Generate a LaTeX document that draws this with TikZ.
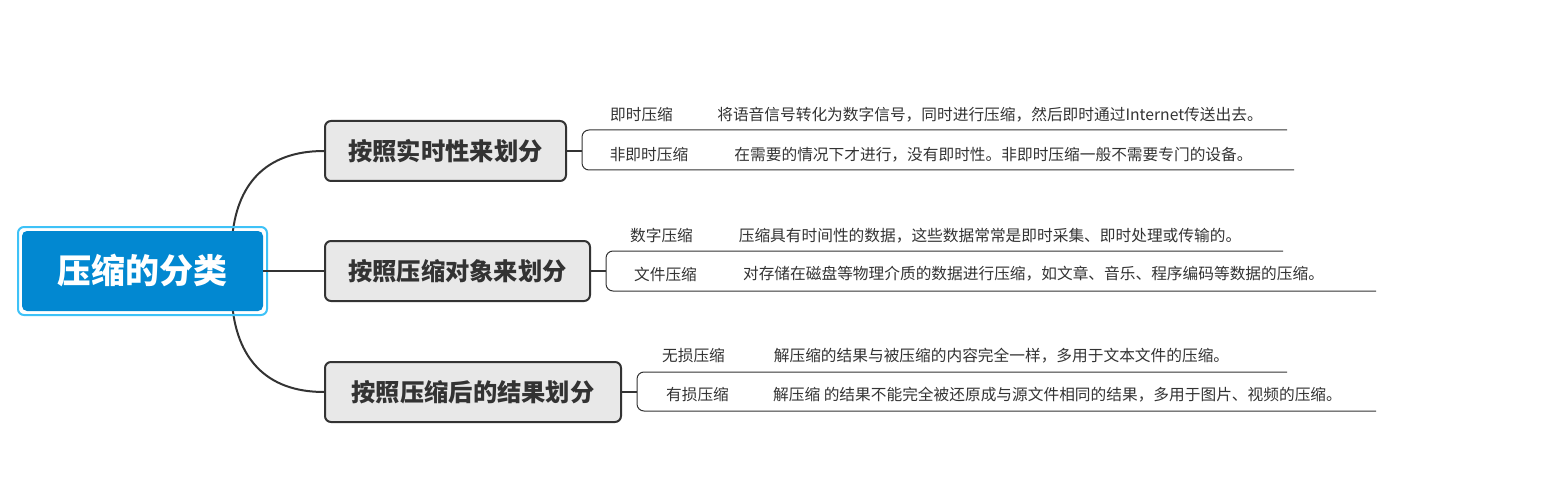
\documentclass[tikz,border=0pt]{standalone}
\usepackage{fontspec}
\setmainfont{Noto Sans CJK SC}
\definecolor{rootblue}{HTML}{0288D1}
\definecolor{rootring}{HTML}{3EC2F7}
\definecolor{branchfill}{HTML}{E8E8E8}
\definecolor{ink}{HTML}{333333}
\begin{document}
\begin{tikzpicture}[x=1pt,y=-1pt,
  rootbox/.style={fill=rootblue,text=white,rounded corners=5pt,inner sep=0pt,
    font=\fontsize{34}{40}\selectfont\bfseries},
  ringbox/.style={draw=rootring,line width=2pt,rounded corners=6pt,inner sep=0pt},
  branch/.style={draw=ink,fill=branchfill,line width=2pt,rounded corners=6pt,
    minimum height=60pt,inner sep=0pt,text=ink,font=\fontsize{24.3}{28}\selectfont\bfseries},
  leaf/.style={text=ink,inner sep=0pt,font=\fontsize{15.7}{18}\selectfont},
  conn/.style={draw=ink,line width=2pt},
  stub/.style={draw=ink,line width=1.5pt},
  leafline/.style={draw=ink,line width=1pt,rounded corners=7pt}]
\useasboundingbox (0,0) rectangle (1544,481);

% connector anchor points
\coordinate (rt) at (232,240);
\coordinate (rb) at (232,302);
\coordinate (br1) at (582,151);
\coordinate (br2) at (606,271);
\coordinate (br3) at (637,392);
\coordinate (u1e) at (1287,130);
\coordinate (u2e) at (1294,170);
\coordinate (u3e) at (1283,251);
\coordinate (u4e) at (1376,291);
\coordinate (u5e) at (1287,372);
\coordinate (u6e) at (1376,411);

% branches
\node[branch,minimum width=241pt] (b1) at (445.5,151) {按照实时性来划分};
\node[branch,minimum width=265pt] (b2) at (457.5,271) {按照压缩对象来划分};
\node[branch,minimum width=296pt] (b3) at (473,392) {按照压缩后的结果划分};

% root connectors
\draw[conn] (rt) .. controls (236,185) and (265,151) .. (b1.west);
\draw[conn] (rb) .. controls (236,357) and (265,392) .. (b3.west);

% root
\node[ringbox,minimum width=249pt,minimum height=88pt] (ring) at (142.5,271) {};
\node[rootbox,minimum width=241pt,minimum height=80pt] (root) at (142.5,271) {压缩的分类};
\draw[conn] (root.east) -- (b2.west);

% brackets
\draw[stub] (b1.east) -- (br1);
\draw[leafline] (u1e) -- (br1 |- u1e) -- (br1 |- u2e) -- (u2e);
\draw[stub] (b2.east) -- (br2);
\draw[leafline] (u3e) -- (br2 |- u3e) -- (br2 |- u4e) -- (u4e);
\draw[stub] (b3.east) -- (br3);
\draw[leafline] (u5e) -- (br3 |- u5e) -- (br3 |- u6e) -- (u6e);

% leaves
\node[leaf] (n1) at (641.5,115) {即时压缩};
\node[leaf] (d1) at (990,115) {将语音信号转化为数字信号，同时进行压缩，然后即时通过Internet传送出去。};
\node[leaf] (n2) at (649,155) {非即时压缩};
\node[leaf] (d2) at (993.5,155) {在需要的情况下才进行，没有即时性。非即时压缩一般不需要专门的设备。};
\node[leaf] (n3) at (661.5,236) {数字压缩};
\node[leaf] (d3) at (990,236) {压缩具有时间性的数据，这些数据常常是即时采集、即时处理或传输的。};
\node[leaf] (n4) at (665.5,274) {文件压缩};
\node[leaf] (d4) at (1033.5,274) {对存储在磁盘等物理介质的数据进行压缩，如文章、音乐、程序编码等数据的压缩。};
\node[leaf] (n5) at (693.5,356) {无损压缩};
\node[leaf] (d5) at (1001.5,356) {解压缩的结果与被压缩的内容完全一样，多用于文本文件的压缩。};
\node[leaf] (n6) at (697.5,395) {有损压缩};
\node[leaf] (d6) at (1057.5,395) {解压缩 的结果不能完全被还原成与源文件相同的结果，多用于图片、视频的压缩。};
\end{tikzpicture}
\end{document}
